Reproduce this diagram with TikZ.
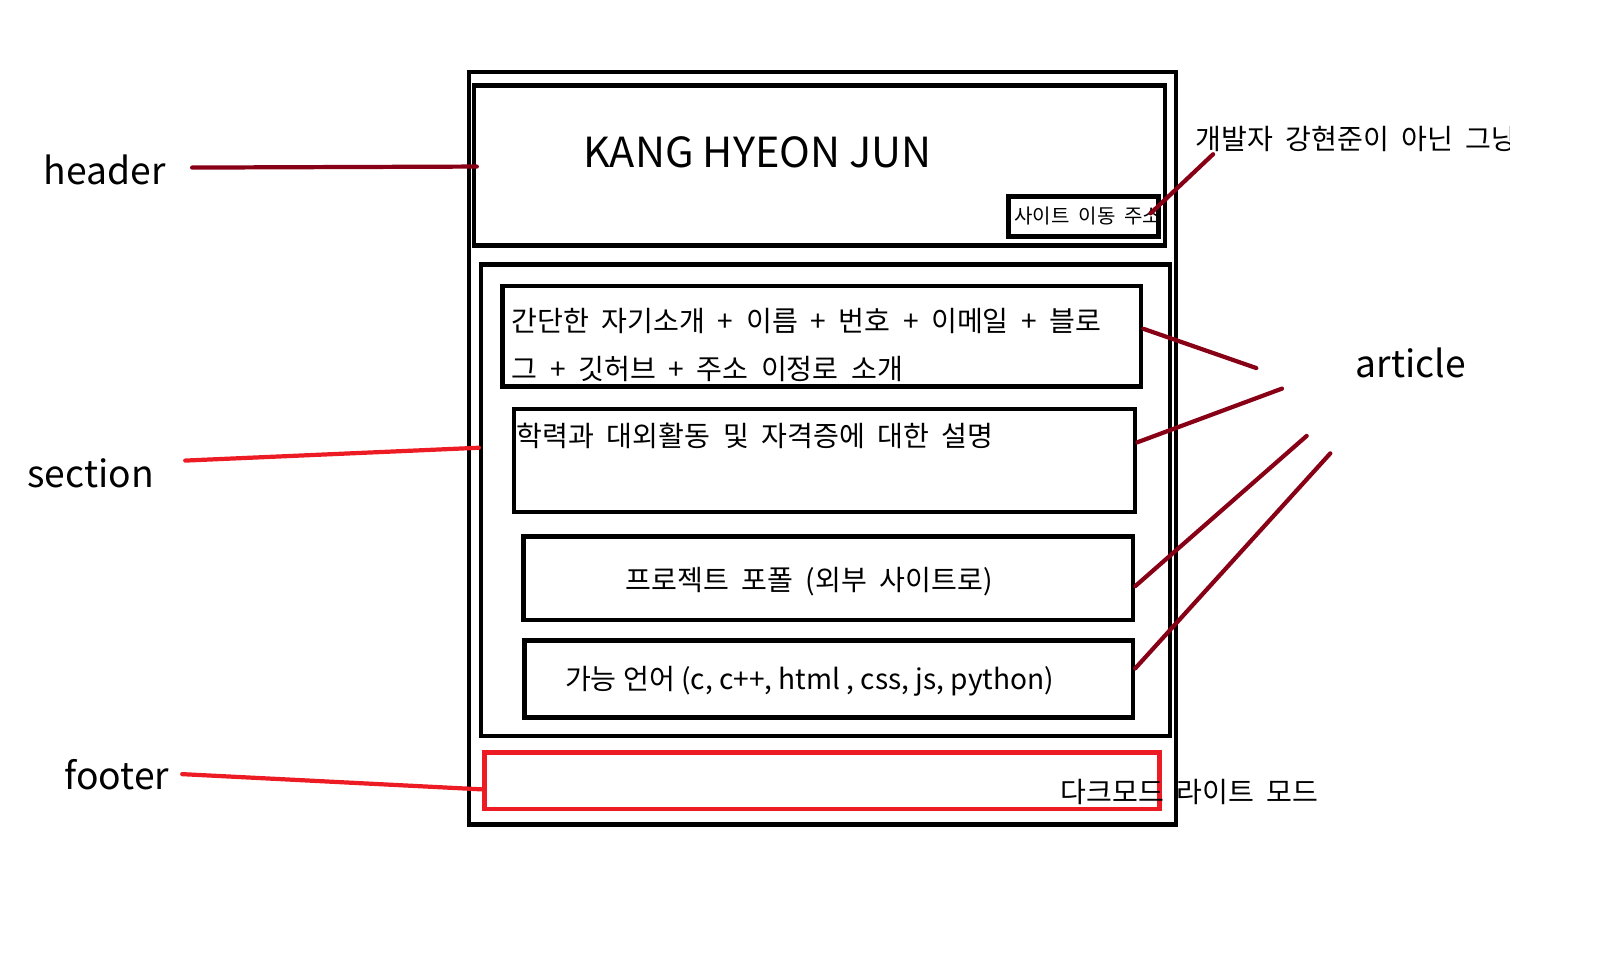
\documentclass[tikz,border=0pt]{standalone}
\usepackage{fontspec}
\setmainfont{Noto Sans CJK KR}
\newfontfamily\widekor{Noto Sans CJK KR}[WordSpace=2]
\usetikzlibrary{positioning,fit,calc}
\definecolor{paintred}{RGB}{237,28,36}
\definecolor{paintbrown}{RGB}{136,0,21}

\begin{document}
\begin{tikzpicture}[
    x=0.1028mm, y=-0.1028mm,
    box/.style={draw, line width=1.3pt, inner sep=0pt},
    redbox/.style={draw=paintred, line width=1.3pt, inner sep=0pt},
    partname/.style={font=\fontsize{10.6}{13}\selectfont, inner sep=0pt},
    note/.style={font=\widekor\fontsize{8}{13.7}\selectfont, inner sep=0pt},
    leader/.style={paintbrown, line width=1.2pt, line cap=round},
    redleader/.style={paintred, line width=1.2pt, line cap=round}
]
\useasboundingbox (0,0) rectangle (1568,928);

% page layout
\node[box, fit={(456,70) (1144,802)}] (page) {};
\node[box, fit={(461,83) (1133,239)}] (header) {};
\node[box, fit={(468,257) (1138,716)}] (section) {};
\node[box, fit={(489,278) (1110,376)}] (intro) {};
\node[box, fit={(500,398) (1104,498)}] (career) {};
\node[box, fit={(509,522) (1102,603)}] (project) {};
\node[box, fit={(510,623) (1102,698)}] (skill) {};
\node[redbox, fit={(471,732) (1128,787)}] (footer) {};

% header contents
\node[font=\fontsize{11.8}{14}\selectfont, inner sep=0pt] (title) at (737,148) {KANG HYEON JUN};
\begin{scope}
  \clip (981,191) rectangle (1127,230);
  \node[note, anchor=west, font=\widekor\fontsize{5.7}{7}\selectfont] (linktext) at (986,210) {사이트 이동 주소};
\end{scope}
\node[box, fit={(981,191) (1127,230)}] (link) {};
\begin{scope}
  \clip (1150,105) rectangle (1468,165);
  \node[note, anchor=west] (devnote) at (1162,135) {개발자 강현준이 아닌 그냥};
\end{scope}

% article contents
\node[note, anchor=north west, align=left] (introtext) at (497,299)
  {간단한 자기소개 + 이름 + 번호 + 이메일 + 블로\\그 + 깃허브 + 주소 이정로 소개};
\node[note, anchor=base west] (careertext) at (502,434) {학력과 대외활동 및 자격증에 대한 설명};
\node[note] (projecttext) at (787,566) {프로젝트 포폴 (외부 사이트로)};
\node[note, anchor=west, font=\fontsize{8}{10}\selectfont] (skilltext) at (549,663) {가능 언어 (c, c++, html , css, js, python)};
\node[note, anchor=west] (modetext) at (1031,770) {다크모드 라이트 모드};

% part names
\node[partname, anchor=west] (headername) at (42,165) {header};
\node[partname, anchor=west] (sectionname) at (26,460) {section};
\node[partname, anchor=west] (footername) at (62,754) {footer};
\node[partname, anchor=west] (articlename) at (1318,353) {article};

\coordinate (devtip) at (1180,150);
\coordinate (tipa) at (1222,358);
\coordinate (tipb) at (1247,378);
\coordinate (tipc) at (1271,424);
\coordinate (tipd) at (1294,441);

\draw[leader] ($(link.east)+(-10,-3)$) -- (devtip);
\draw[leader] ($(headername.east)+(25,-2)$) -- ($(header.west)+(5,1)$);
\draw[redleader] ($(sectionname.east)+(30,-12)$) -- ($(section.north west)!0.39!(section.south west)$);
\draw[redleader] ($(footername.east)+(12,-1)$) -- ($(footer.north west)!0.64!(footer.south west)$);
\draw[leader] ($(intro.north east)!0.43!(intro.south east)$) -- (tipa);
\draw[leader] ($(career.north east)!0.33!(career.south east)$) -- (tipb);
\draw[leader] ($(project.north east)!0.59!(project.south east)$) -- (tipc);
\draw[leader] ($(skill.north east)!0.37!(skill.south east)$) -- (tipd);
\end{tikzpicture}
\end{document}
